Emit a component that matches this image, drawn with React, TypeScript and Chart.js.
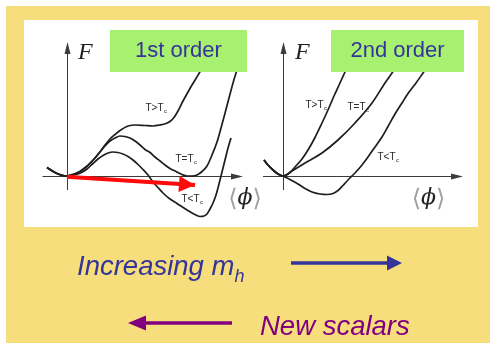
import React, { useEffect, useRef } from 'react';
import { Chart, registerables } from 'chart.js';

Chart.register(...registerables);

type Pt = [number, number];

// ---------- 1st-order transition: F vs <phi> ----------
const firstAbove: Pt[] = [
  [-0.195, 0.085], [-0.115, 0.035], [-0.055, 0.01], [0, 0], [0.065, 0.015], [0.135, 0.045],
  [0.195, 0.09], [0.235, 0.127], [0.285, 0.18], [0.335, 0.243], [0.385, 0.31], [0.435, 0.37],
  [0.485, 0.415], [0.535, 0.455], [0.615, 0.5], [0.695, 0.51], [0.785, 0.505], [0.865, 0.5],
  [0.935, 0.51], [0.995, 0.525], [1.035, 0.545], [1.075, 0.585], [1.115, 0.65], [1.165, 0.75],
  [1.215, 0.84], [1.255, 0.91], [1.295, 0.975], [1.335, 1.043], [1.395, 1.14],
];
const firstCritical: Pt[] = [
  [-0.195, 0.085], [-0.115, 0.035], [-0.055, 0.01], [0, 0], [0.065, 0.015], [0.135, 0.045],
  [0.195, 0.09], [0.235, 0.127], [0.285, 0.18], [0.335, 0.24], [0.385, 0.3], [0.435, 0.35],
  [0.485, 0.38], [0.535, 0.4], [0.585, 0.395], [0.635, 0.38], [0.685, 0.35], [0.735, 0.31],
  [0.785, 0.265], [0.835, 0.235], [0.885, 0.19], [0.935, 0.15], [0.985, 0.11], [1.035, 0.075],
  [1.095, 0.045], [1.155, 0.015], [1.205, 0], [1.255, 0], [1.305, 0.01], [1.355, 0.045],
  [1.405, 0.1], [1.455, 0.21], [1.505, 0.34], [1.545, 0.48], [1.585, 0.627], [1.625, 0.78],
  [1.655, 0.893], [1.695, 1.03], [1.725, 1.13],
];
const firstBelow: Pt[] = [
  [-0.195, 0.085], [-0.115, 0.035], [-0.055, 0.01], [0, 0], [0.065, 0.01], [0.135, 0.027],
  [0.205, 0.07], [0.265, 0.125], [0.315, 0.17], [0.365, 0.205], [0.415, 0.23], [0.465, 0.24],
  [0.515, 0.235], [0.565, 0.22], [0.615, 0.195], [0.665, 0.16], [0.715, 0.115], [0.765, 0.065],
  [0.815, 0.01], [0.865, -0.06], [0.915, -0.115], [0.965, -0.17], [1.035, -0.23], [1.105, -0.275],
  [1.175, -0.32], [1.235, -0.357], [1.295, -0.39], [1.335, -0.405], [1.375, -0.4], [1.405, -0.38],
  [1.435, -0.33], [1.465, -0.27], [1.495, -0.19], [1.525, -0.08], [1.555, 0.04], [1.585, 0.16],
  [1.615, 0.28], [1.645, 0.38],
];
const firstShift: Pt[] = [[0.005, -0.007], [1.285, -0.09]];

// ---------- 2nd-order transition: F vs <phi> ----------
const secondAbove: Pt[] = [
  [-0.19, 0.16], [-0.15, 0.11], [-0.1, 0.06], [-0.05, 0.02], [0, 0], [0.07, 0.035], [0.12, 0.09],
  [0.19, 0.17], [0.25, 0.26], [0.32, 0.385], [0.39, 0.53], [0.45, 0.66], [0.51, 0.8],
  [0.57, 0.93], [0.62, 1.04], [0.67, 1.15],
];
const secondCritical: Pt[] = [
  [-0.19, 0.16], [-0.15, 0.11], [-0.1, 0.06], [-0.05, 0.02], [0, 0], [0.09, 0.05], [0.22, 0.13],
  [0.39, 0.23], [0.55, 0.36], [0.72, 0.53], [0.89, 0.73], [1.02, 0.93], [1.09, 1.03], [1.16, 1.14],
];
const secondBelow: Pt[] = [
  [-0.19, 0.16], [-0.15, 0.11], [-0.1, 0.06], [-0.05, 0.02], [0, 0], [0.07, -0.035], [0.15, -0.08],
  [0.22, -0.125], [0.29, -0.16], [0.37, -0.18], [0.44, -0.185], [0.5, -0.175], [0.55, -0.145],
  [0.6, -0.095], [0.65, -0.04], [0.72, 0.03], [0.79, 0.11], [0.85, 0.19], [0.92, 0.29],
  [0.99, 0.39], [1.05, 0.495], [1.12, 0.62], [1.19, 0.73], [1.25, 0.825], [1.33, 0.93],
  [1.4, 1.03], [1.47, 1.13],
];

// ---------- text ----------
const curveLabels = ['T>T', 'T=T', 'T<T'];
const curveLabelSub = 'c';
const panelTitles = ['1st order', '2nd order'];
const axisNameY = 'F';
const axisNameX = 'ϕ';
const captionA = 'Increasing m';
const captionASub = 'h';
const captionB = 'New scalars';

// ---------- layout / style (not data) ----------
const YELLOW = '#f7de7d';
const GREEN = '#a8f070';
const NAVY = '#34349a';
const PURPLE = '#800080';
const INK = '#1e1e1e';
const Y_RANGE: Pt = [-0.51, 1.56];
const AXIS_Y: Pt = [-0.14, 1.34];
const firstLabelPos: Pt[] = [[0.895, 0.69], [1.195, 0.18], [1.255, -0.22]];
const secondLabelPos: Pt[] = [[0.33, 0.72], [0.75, 0.7], [1.05, 0.2]];

const toXY = (pts: Pt[]) => pts.map(([x, y]) => ({ x, y }));

const diagramPlugin = {
  id: 'diagram',
  beforeDatasetsDraw(chart: any, _a: any, opts: any) {
    const { ctx } = chart;
    const xs = chart.scales.x;
    const ys = chart.scales.y;
    const x0 = Math.round(xs.getPixelForValue(0)) + 0.5;
    const y0 = Math.round(ys.getPixelForValue(0)) + 0.5;
    const xa = xs.getPixelForValue(opts.axisX[0]);
    const xb = xs.getPixelForValue(opts.axisX[1]);
    const ya = ys.getPixelForValue(opts.axisY[0]);
    const yb = ys.getPixelForValue(opts.axisY[1]);
    ctx.save();
    ctx.strokeStyle = '#3c3c3c';
    ctx.fillStyle = '#3c3c3c';
    ctx.lineWidth = 1;
    ctx.beginPath();
    ctx.moveTo(xa, y0);
    ctx.lineTo(xb - 8, y0);
    ctx.moveTo(x0, ya);
    ctx.lineTo(x0, yb + 8);
    ctx.stroke();
    ctx.beginPath();
    ctx.moveTo(xb, y0);
    ctx.lineTo(xb - 12, y0 - 3);
    ctx.lineTo(xb - 12, y0 + 3);
    ctx.closePath();
    ctx.moveTo(x0, yb);
    ctx.lineTo(x0 - 3, yb + 12);
    ctx.lineTo(x0 + 3, yb + 12);
    ctx.closePath();
    ctx.fill();
    ctx.restore();
  },
  afterDatasetsDraw(chart: any, _a: any, opts: any) {
    const { ctx } = chart;
    chart.data.datasets.forEach((ds: any, i: number) => {
      if (!ds.arrowHead) return;
      const pts = chart.getDatasetMeta(i).data;
      const a = pts[pts.length - 2];
      const b = pts[pts.length - 1];
      const ang = Math.atan2(b.y - a.y, b.x - a.x);
      const len = 16;
      const half = 8;
      const bx = b.x - len * Math.cos(ang);
      const by = b.y - len * Math.sin(ang);
      ctx.save();
      ctx.fillStyle = ds.borderColor;
      ctx.beginPath();
      ctx.moveTo(b.x, b.y);
      ctx.lineTo(bx - half * Math.sin(ang), by + half * Math.cos(ang));
      ctx.lineTo(bx + half * Math.sin(ang), by - half * Math.cos(ang));
      ctx.closePath();
      ctx.fill();
      ctx.restore();
    });
    const xs = chart.scales.x;
    const ys = chart.scales.y;
    ctx.save();
    ctx.fillStyle = '#2a2a2a';
    ctx.textBaseline = 'alphabetic';
    ctx.textAlign = 'left';
    (opts.labels || []).forEach((l: any) => {
      const px = xs.getPixelForValue(l.x);
      const py = ys.getPixelForValue(l.y);
      ctx.font = '10px "Liberation Sans", Arial, sans-serif';
      const w1 = ctx.measureText(l.text).width;
      ctx.font = '6px "Liberation Sans", Arial, sans-serif';
      const w2 = ctx.measureText(l.sub).width;
      const start = px - (w1 + w2) / 2;
      ctx.font = '10px "Liberation Sans", Arial, sans-serif';
      ctx.fillText(l.text, start, py + 3.5);
      ctx.font = '6px "Liberation Sans", Arial, sans-serif';
      ctx.fillText(l.sub, start + w1 + 0.5, py + 5.5);
    });
    ctx.restore();
  },
};

type PanelProps = {
  left: number;
  width: number;
  xRange: Pt;
  axisX: Pt;
  curves: Pt[][];
  shift?: Pt[];
  labelPos: Pt[];
};

function PhasePanel({ left, width, xRange, axisX, curves, shift, labelPos }: PanelProps) {
  const ref = useRef<HTMLCanvasElement>(null);
  useEffect(() => {
    const datasets: any[] = [];
    if (shift) {
      datasets.push({
        data: toXY(shift),
        borderColor: '#ff0a0a',
        borderWidth: 4,
        borderCapStyle: 'butt',
        pointRadius: 0,
        arrowHead: true,
        order: -1,
      });
    }
    curves.forEach((c) =>
      datasets.push({
        data: toXY(c),
        borderColor: INK,
        borderWidth: 1.7,
        pointRadius: 0,
        cubicInterpolationMode: 'monotone',
        fill: false,
      })
    );
    const labels = labelPos.map(([x, y], i) => ({ x, y, text: curveLabels[i], sub: curveLabelSub }));
    const chart = new Chart(ref.current as HTMLCanvasElement, {
      type: 'line',
      data: { datasets },
      options: {
        animation: false,
        responsive: false,
        devicePixelRatio: 1,
        events: [],
        layout: { padding: 0 },
        scales: {
          x: { type: 'linear', min: xRange[0], max: xRange[1], display: false },
          y: { type: 'linear', min: Y_RANGE[0], max: Y_RANGE[1], display: false },
        },
        plugins: {
          legend: { display: false },
          tooltip: { enabled: false },
          diagram: { axisX, axisY: AXIS_Y, labels },
        } as any,
      },
      plugins: [diagramPlugin as any],
    });
    return () => chart.destroy();
  }, []);
  return (
    <canvas
      ref={ref}
      width={width}
      height={207}
      style={{ position: 'absolute', left, top: 20, width, height: 207 }}
    />
  );
}

function PhiLabel({ cx, y }: { cx: number; y: number }) {
  return (
    <text x={cx} y={y} textAnchor="middle" fontSize={22} fontFamily='"DejaVu Serif", serif'>
      <tspan fill="#a0a0a0" fontSize={24} fontWeight={300}>⟨</tspan>
      <tspan fill="#222" fontStyle="italic" dy={-2}>{axisNameX}</tspan>
      <tspan fill="#a0a0a0" fontSize={24} fontWeight={300} dy={2}>⟩</tspan>
    </text>
  );
}

export default function App() {
  const sans = '"Liberation Sans", Arial, sans-serif';
  const serif = '"Liberation Serif", "Times New Roman", serif';
  return (
    <div style={{ position: 'absolute', left: 0, top: 0, width: 490, height: 343, background: '#fff', overflow: 'hidden' }}>
      <div style={{ position: 'absolute', left: 6, top: 6, width: 484, height: 337, background: YELLOW }} />
      <div style={{ position: 'absolute', left: 24, top: 20, width: 454, height: 207, background: '#fff' }} />
      <PhasePanel
        left={24}
        width={238}
        xRange={[-0.425, 1.955]}
        axisX={[-0.24, 1.765]}
        curves={[firstAbove, firstCritical, firstBelow]}
        shift={firstShift}
        labelPos={firstLabelPos}
      />
      <PhasePanel
        left={262}
        width={216}
        xRange={[-0.21, 1.95]}
        axisX={[-0.2, 1.8]}
        curves={[secondAbove, secondCritical, secondBelow]}
        labelPos={secondLabelPos}
      />
      <svg width={490} height={343} style={{ position: 'absolute', left: 0, top: 0 }}>
        <rect x={110} y={30} width={137} height={42} fill={GREEN} />
        <rect x={331} y={30} width={133} height={42} fill={GREEN} />
        <text x={178.5} y={57} textAnchor="middle" fontSize={22} fontFamily={sans} fill={NAVY}>
          {panelTitles[0]}
        </text>
        <text x={397.5} y={57} textAnchor="middle" fontSize={22} fontFamily={sans} fill={NAVY}>
          {panelTitles[1]}
        </text>
        <text x={78} y={59} fontSize={24} fontStyle="italic" fontFamily={serif} fill="#222">{axisNameY}</text>
        <text x={295} y={59} fontSize={24} fontStyle="italic" fontFamily={serif} fill="#222">{axisNameY}</text>
        <PhiLabel cx={245} y={206} />
        <PhiLabel cx={428.5} y={206} />
        <text x={77} y={275} fontSize={27.5} fontStyle="italic" fontFamily={sans} fill={NAVY}>
          {captionA}
          <tspan dy={7} fontSize={18}>{captionASub}</tspan>
        </text>
        <line x1={291} y1={263} x2={389} y2={263} stroke={NAVY} strokeWidth={3.5} />
        <polygon points="387,255.5 402,263 387,270.5" fill={NAVY} />
        <line x1={232} y1={323} x2={144} y2={323} stroke={PURPLE} strokeWidth={3.5} />
        <polygon points="146,315.5 128,323 146,330.5" fill={PURPLE} />
        <text x={260} y={335} fontSize={27.5} fontStyle="italic" fontFamily={sans} fill={PURPLE}>
          {captionB}
        </text>
      </svg>
    </div>
  );
}
